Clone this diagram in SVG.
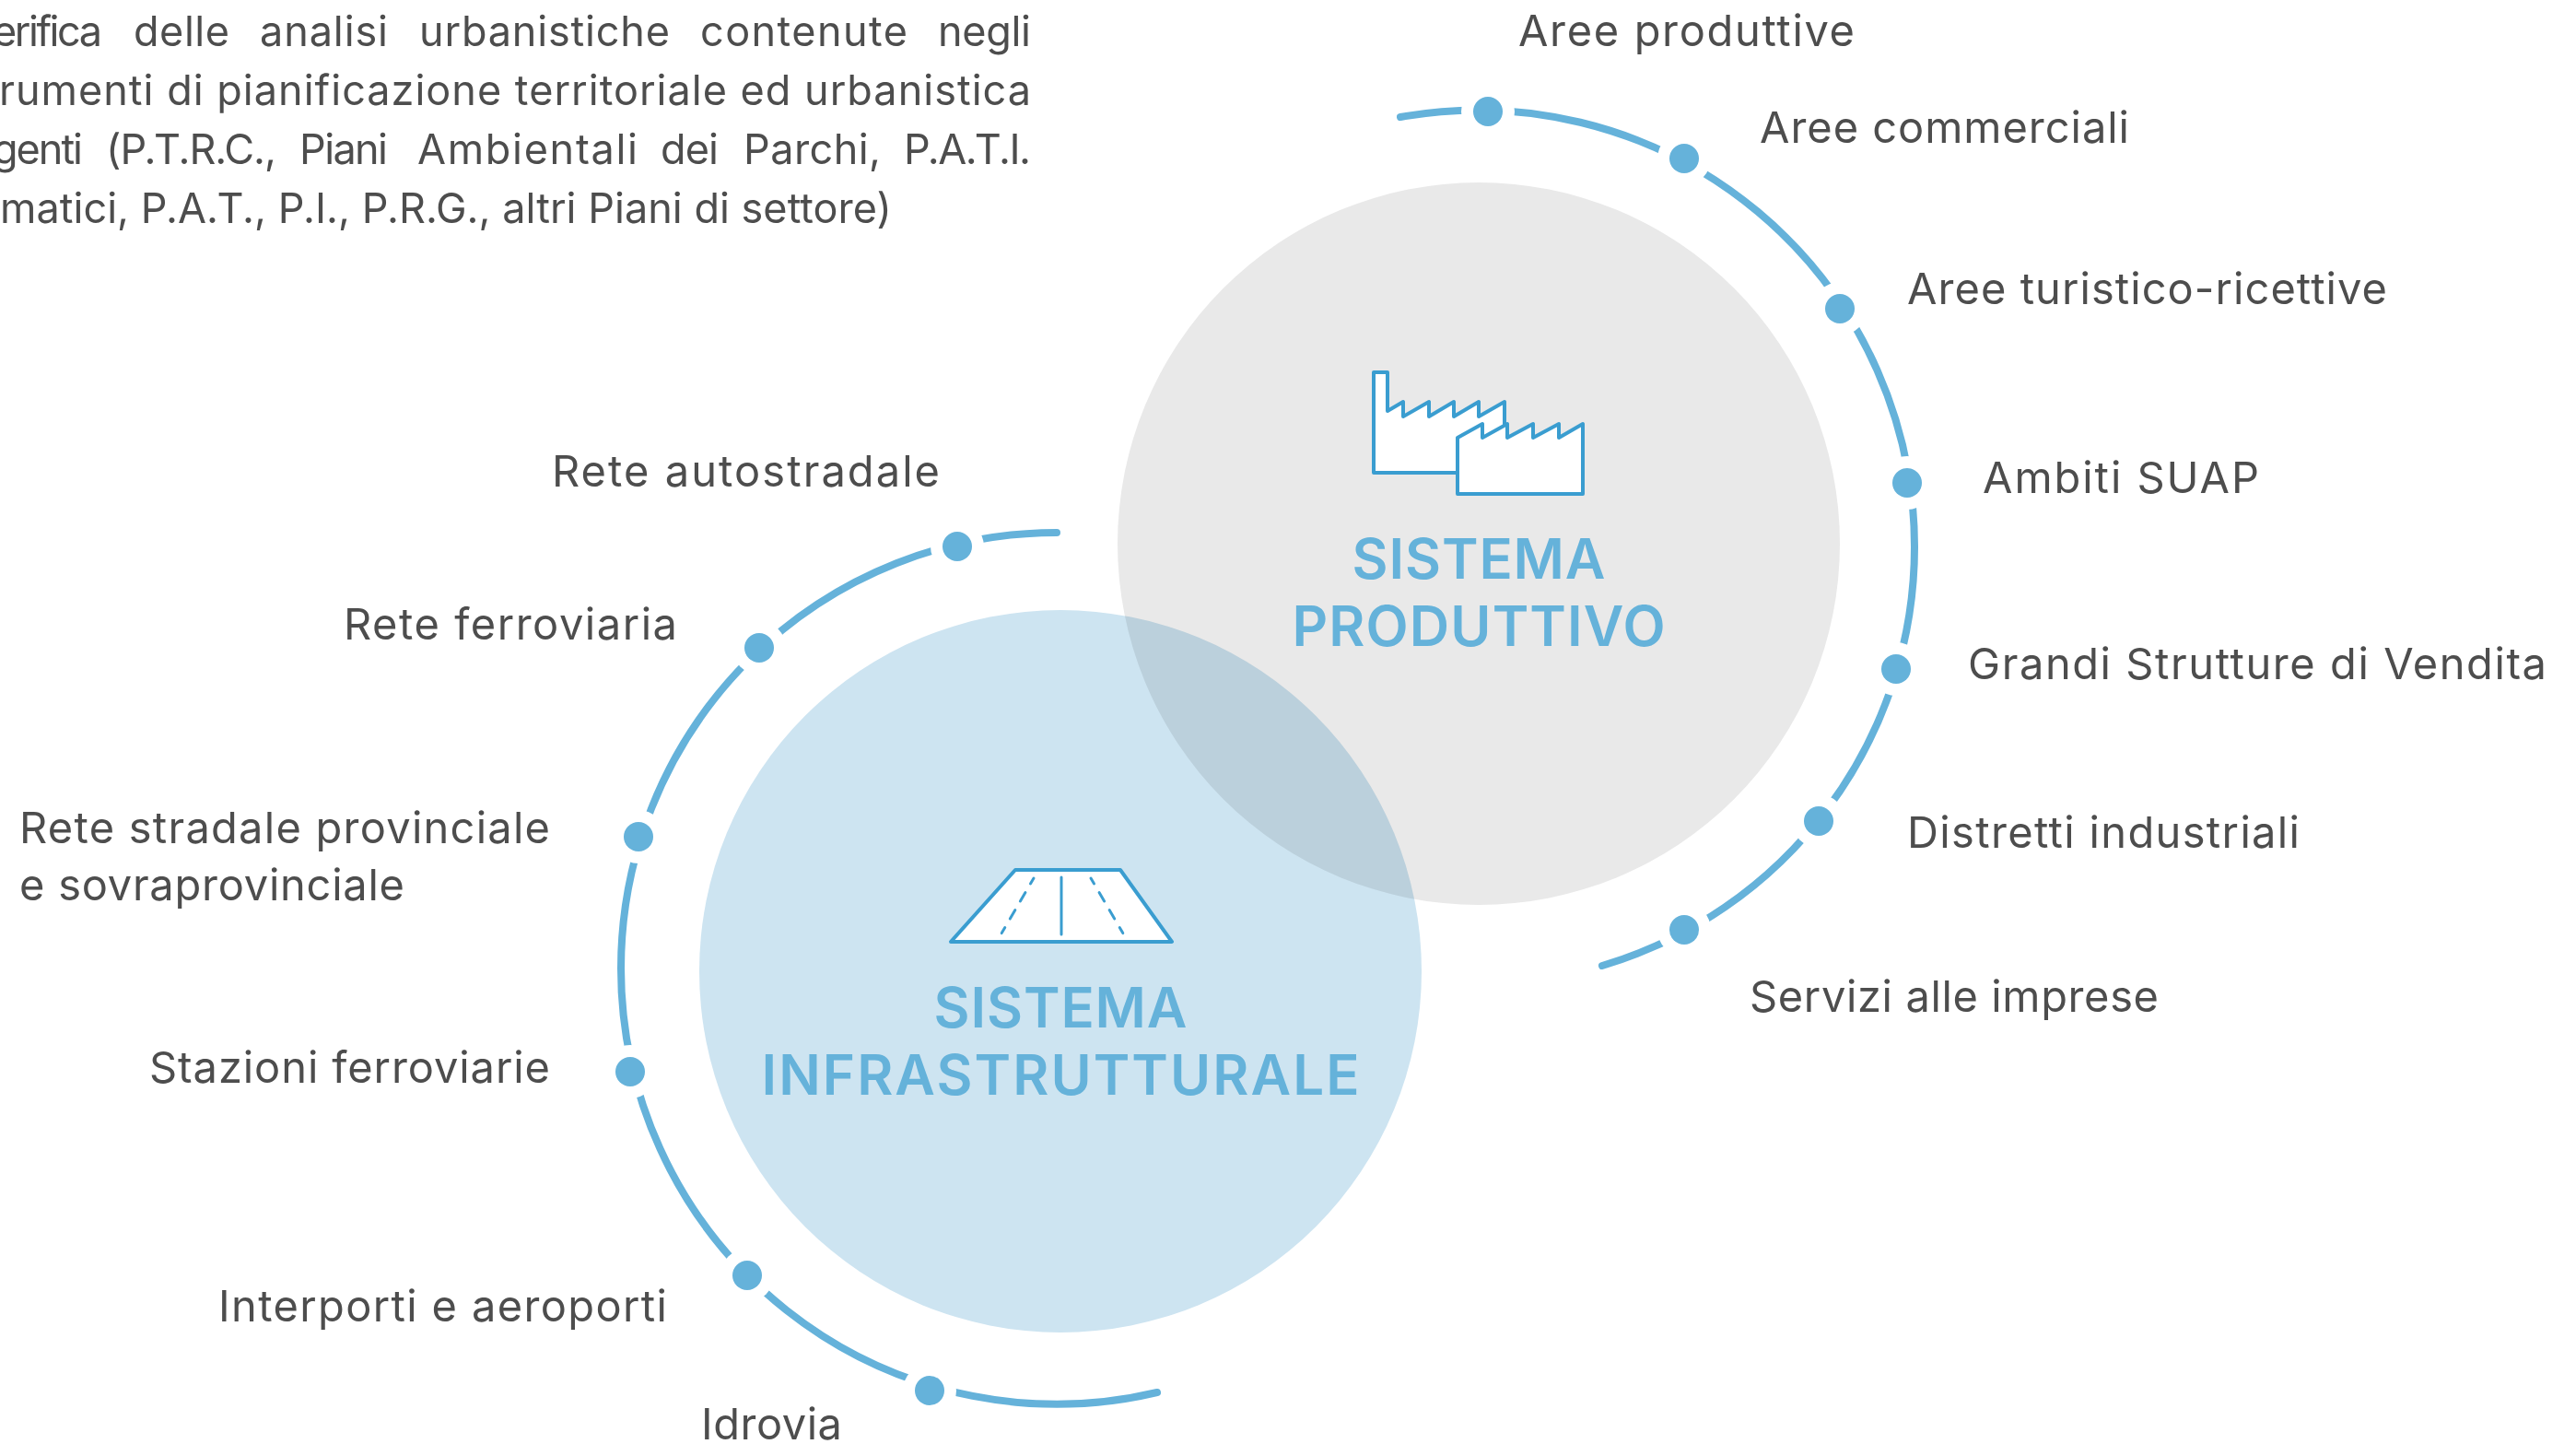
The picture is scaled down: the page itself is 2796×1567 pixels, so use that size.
<svg xmlns="http://www.w3.org/2000/svg" width="2796" height="1567" viewBox="0 0 2796 1567">
<style>
text{font-family:"Inter","Liberation Sans",sans-serif;font-size:47px;font-weight:400;fill:#4d4d4d;font-variant-ligatures:none}
#intro text{font-size:45px}
.title{font-weight:600;font-size:60px;fill:#65b2da;text-anchor:middle}
.arc{fill:none;stroke:#65b2da;stroke-width:8;stroke-linecap:round}
.halo{fill:#fff}
.dot{fill:#65b2da}
.ico{fill:#fff;stroke:#3a9dd0;stroke-width:4;stroke-linejoin:round;stroke-linecap:round}
.ln{fill:none;stroke:#3a9dd0;stroke-width:3;stroke-linecap:round}
.dash{stroke-dasharray:7 11 11 11 11 11 7}
</style>
<rect width="2796" height="1567" fill="#fff"/>
<g id="intro">
<text y="50"><tspan x="-8" textLength="119">erifica</tspan><tspan x="145" textLength="104">delle</tspan><tspan x="282" textLength="139">analisi</tspan><tspan x="455" textLength="272">urbanistiche</tspan><tspan x="760" textLength="225">contenute</tspan><tspan x="1018" textLength="101">negli</tspan></text>
<text x="-1" y="114" textLength="1120">rumenti di pianificazione territoriale ed urbanistica</text>
<text y="178"><tspan x="-8" textLength="98">genti</tspan><tspan x="115" textLength="185">(P.T.R.C.,</tspan><tspan x="325" textLength="96">Piani</tspan><tspan x="453" textLength="239">Ambientali</tspan><tspan x="717" textLength="63">dei</tspan><tspan x="807" textLength="149">Parchi,</tspan><tspan x="981" textLength="138">P.A.T.I.</tspan></text>
<text x="0" y="242" textLength="968">matici, P.A.T., P.I., P.R.G., altri Piani di settore)</text>
</g>
<g id="node-produttivo">
<circle cx="1605" cy="590" r="392" fill="#e9e9e9"/>
<path class="ico" d="M1491 404H1506V446L1523 436V452L1551 436V452L1578 436V452L1605 436V452L1633 436V513H1491Z"/>
<path class="ico" d="M1582 475L1609 460V475L1636 460V475L1664 460V475L1692 460V475L1718 460V536H1582Z"/>
<text class="title" x="1605" y="628" textLength="275">SISTEMA</text>
<text class="title" x="1605" y="701" textLength="405">PRODUTTIVO</text>
</g>
<g id="node-infrastrutturale">
<circle cx="1151" cy="1054" r="392" fill="#cde4f1" style="mix-blend-mode:multiply"/>
<path class="ico" d="M1102 944H1216L1272 1022H1032Z"/>
<path class="ln" d="M1152 952V1014"/>
<path class="ln dash" d="M1122 953L1087 1013"/>
<path class="ln dash" d="M1184 953L1219 1013"/>
<text class="title" x="1151" y="1115" textLength="275">SISTEMA</text>
<text class="title" x="1151" y="1188" textLength="649">INFRASTRUTTURALE</text>
</g>
<g id="connectors">
<path class="arc" d="M1520 127A474 474 0 0 1 2078 593A474 474 0 0 1 1739 1048"/>
<path class="arc" d="M1147 578A473 473 0 0 0 674 1051A473 473 0 0 0 1256 1511"/>
</g>
<g id="dots-produttivo">
<circle class="halo" cx="1615" cy="121" r="29"/><circle class="dot" cx="1615" cy="121" r="16"/>
<circle class="halo" cx="1828" cy="172" r="29"/><circle class="dot" cx="1828" cy="172" r="16"/>
<circle class="halo" cx="1997" cy="335" r="29"/><circle class="dot" cx="1997" cy="335" r="16"/>
<circle class="halo" cx="2070" cy="524" r="29"/><circle class="dot" cx="2070" cy="524" r="16"/>
<circle class="halo" cx="2058" cy="726" r="29"/><circle class="dot" cx="2058" cy="726" r="16"/>
<circle class="halo" cx="1974" cy="891" r="29"/><circle class="dot" cx="1974" cy="891" r="16"/>
<circle class="halo" cx="1828" cy="1009" r="29"/><circle class="dot" cx="1828" cy="1009" r="16"/>
</g>
<g id="dots-infrastrutturale">
<circle class="halo" cx="1039" cy="593" r="29"/><circle class="dot" cx="1039" cy="593" r="16"/>
<circle class="halo" cx="824" cy="703" r="29"/><circle class="dot" cx="824" cy="703" r="16"/>
<circle class="halo" cx="693" cy="908" r="29"/><circle class="dot" cx="693" cy="908" r="16"/>
<circle class="halo" cx="684" cy="1163" r="29"/><circle class="dot" cx="684" cy="1163" r="16"/>
<circle class="halo" cx="811" cy="1384" r="29"/><circle class="dot" cx="811" cy="1384" r="16"/>
<circle class="halo" cx="1009" cy="1509" r="29"/><circle class="dot" cx="1009" cy="1509" r="16"/>
</g>
<g id="labels">
<text x="1648" y="50" textLength="365">Aree produttive</text>
<text x="1910" y="155" textLength="401">Aree commerciali</text>
<text x="2070" y="330" textLength="521">Aree turistico-ricettive</text>
<text x="2152" y="535" textLength="300">Ambiti SUAP</text>
<text x="2136" y="737" textLength="628">Grandi Strutture di Vendita</text>
<text x="2070" y="920" textLength="426">Distretti industriali</text>
<text x="1899" y="1098" textLength="444">Servizi alle imprese</text>
<text x="599" y="528" textLength="421">Rete autostradale</text>
<text x="373" y="694" textLength="362">Rete ferroviaria</text>
<text x="21" y="915" textLength="576">Rete stradale provinciale</text>
<text x="21" y="977" textLength="418">e sovraprovinciale</text>
<text x="162" y="1175" textLength="435">Stazioni ferroviarie</text>
<text x="237" y="1434" textLength="487">Interporti e aeroporti</text>
<text x="761" y="1562" textLength="153">Idrovia</text>
</g>
</svg>
